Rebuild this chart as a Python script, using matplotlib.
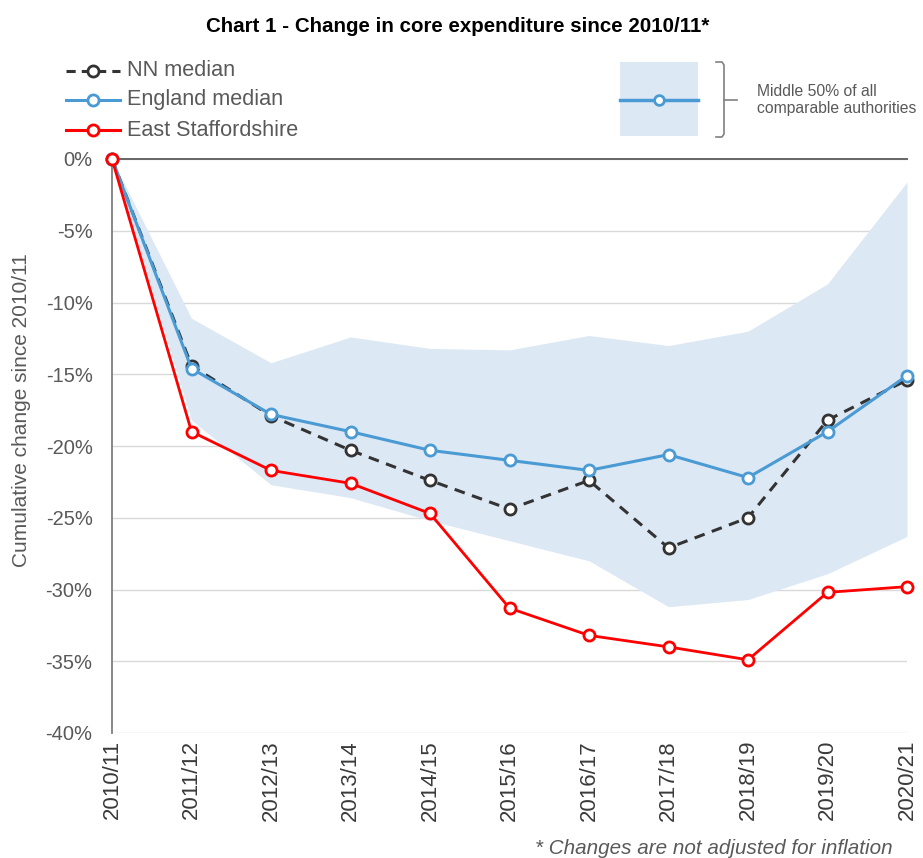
import matplotlib
matplotlib.use("Agg")
import matplotlib.pyplot as plt
from matplotlib.lines import Line2D
from matplotlib.patches import Rectangle
import numpy as np

plt.rcParams['font.family'] = ['Liberation Sans', 'DejaVu Sans']

years = ["2010/11", "2011/12", "2012/13", "2013/14", "2014/15", "2015/16",
         "2016/17", "2017/18", "2018/19", "2019/20", "2020/21"]
east_staffs = [0, -19.0, -21.7, -22.6, -24.7, -31.3, -33.2, -34.0, -34.9, -30.2, -29.8]
england_median = [0, -14.6, -17.8, -19.0, -20.3, -21.0, -21.7, -20.6, -22.2, -19.0, -15.1]
nn_median = [0, -14.4, -17.9, -20.3, -22.4, -24.4, -22.4, -27.1, -25.0, -18.2, -15.4]
band_upper = [0, -11.1, -14.2, -12.4, -13.2, -13.3, -12.3, -13.0, -12.0, -8.7, -1.6]
band_lower = [0, -18.2, -22.7, -23.6, -25.2, -26.6, -28.0, -31.2, -30.7, -28.9, -26.3]
yticks = [0, -5, -10, -15, -20, -25, -30, -35, -40]
ytick_labels = ["0%", "-5%", "-10%", "-15%", "-20%", "-25%", "-30%", "-35%", "-40%"]

W, H = 923, 858
fig = plt.figure(figsize=(W / 100, H / 100), dpi=100)

def fx(px):
    return px / W

def fy(py):
    return 1 - py / H

AX_L, AX_R = 112, 907
ax = fig.add_axes([fx(AX_L), fy(733), fx(AX_R) - fx(AX_L), fy(159) - fy(733)])

BLUE = "#4A9AD4"
RED = "#FF0000"
DARK = "#333333"
BAND = "#DDE8F5"
GRID = "#D9D9D9"
TXT = "#595959"

x = np.arange(len(years))
ax.fill_between(x, band_lower, band_upper, color=BAND, linewidth=0, zorder=1)
ax.plot(x, east_staffs, color=RED, lw=2, marker="o", ms=8, mfc="white",
        mec=RED, mew=2, zorder=5, clip_on=False)
ax.plot(x, england_median, color=BLUE, lw=2.2, marker="o", ms=8, mfc="white",
        mec=BLUE, mew=2, zorder=4, clip_on=False)
ax.plot(x, nn_median, color=DARK, lw=2.2, ls=(0, (3.5, 2.5)), marker="o", ms=8,
        mfc="white", mec=DARK, mew=2, zorder=3, clip_on=False)

ax.set_xlim(0, len(years) - 1)
ax.set_ylim(-40, 0)
ax.set_yticks(yticks)
ax.set_yticklabels(ytick_labels, fontsize=14.5, color=TXT)
ax.set_xticks(x)
ax.set_xticklabels(years, rotation=90, fontsize=16, color="#3a3a3a")
ax.tick_params(axis="y", length=0, pad=14)
ax.tick_params(axis="x", length=0, pad=5)
ax.grid(axis="y", color=GRID, lw=1)
ax.set_axisbelow(True)
for s in ["right", "bottom"]:
    ax.spines[s].set_visible(False)
ax.spines["top"].set_color("#666666")
ax.spines["top"].set_linewidth(1.4)
ax.spines["left"].set_color("#7f7f7f")
ax.spines["left"].set_linewidth(1.3)
ax.set_ylabel("Cumulative change since 2010/11", fontsize=15, color=TXT)
ax.yaxis.set_label_coords((31 - AX_L) / (AX_R - AX_L), 0.563)

fig.text(fx(458), fy(26), "Chart 1 - Change in core expenditure since 2010/11*",
         ha="center", va="center", fontsize=14.8, fontweight="bold", color="black")

# left legend
rows = [(71, DARK, (0, (3.0, 2.0)), "NN median"),
        (100, BLUE, "-", "England median"),
        (130, RED, "-", "East Staffordshire")]
for py, col, ls, lab in rows:
    fig.add_artist(Line2D([fx(66), fx(120)], [fy(py), fy(py)], color=col, lw=2.2, ls=ls))
    fig.add_artist(Line2D([fx(93)], [fy(py)], color=col, marker="o", ms=8, mfc="white",
                          mec=col, mew=2, ls="none"))
    fig.text(fx(127), fy(py), lab, fontsize=15.6, color=TXT, va="center", ha="left")

# right legend
fig.add_artist(Rectangle((fx(620), fy(136)), fx(698) - fx(620), fy(62) - fy(136),
                         transform=fig.transFigure, facecolor=BAND, edgecolor="none"))
fig.add_artist(Line2D([fx(620), fx(698)], [fy(100), fy(100)], color=BLUE, lw=2.5))
fig.add_artist(Line2D([fx(659)], [fy(100)], color=BLUE, marker="o", ms=7, mfc="white",
                      mec=BLUE, mew=2, ls="none"))
bx = [716, 722, 724, 724, 722, 716]
by = [62, 62, 65, 134, 137, 137]
fig.add_artist(Line2D([fx(v) for v in bx], [fy(v) for v in by], color="#808080", lw=1.2))
fig.add_artist(Line2D([fx(724), fx(737)], [fy(100), fy(100)], color="#808080", lw=1.2))
fig.text(fx(757), fy(100), "Middle 50% of all\ncomparable authorities", fontsize=11.3,
         color=TXT, va="center", ha="left", linespacing=1.15)

fig.text(fx(893), fy(848), "* Changes are not adjusted for inflation", fontsize=14.9,
         style="italic", color=TXT, ha="right", va="center")

fig.savefig("out.png", dpi=100)
